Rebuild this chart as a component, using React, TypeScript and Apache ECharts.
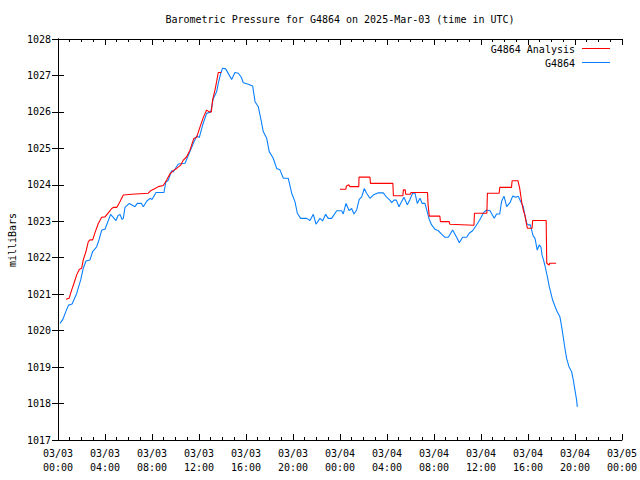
import React, { useEffect, useRef } from "react";
import * as echarts from "echarts";

// hours since 2025-03-03 00:00 UTC
const obsHours = [
  0.17, 0.4, 0.7, 0.9, 1.2, 1.59, 1.93, 2.15, 2.38, 2.72, 2.95, 3.29, 3.5, 3.72, 4.0, 4.48, 4.94, 5.1, 5.28, 5.45,
  5.56, 5.7, 6.07, 6.55, 6.75, 7.1, 7.26, 7.55, 7.83, 8.0, 8.34, 9.02, 9.17, 9.39, 9.67, 9.8, 10.24, 10.81, 11.23, 11.52,
  11.8, 12.03, 12.31, 12.65, 13.0, 13.22, 13.5, 13.64, 13.85, 14.01, 14.27, 14.5, 14.78, 15.06, 15.35, 15.6, 15.77, 16.2, 16.57, 16.77,
  17.05, 17.28, 17.47, 17.76, 17.98, 18.32, 18.61, 18.89, 19.18, 19.6, 19.89, 20.17, 20.37, 20.65, 21.16, 21.45, 21.73, 21.96, 22.3, 22.52,
  22.78, 23.0, 23.29, 23.72, 24.14, 24.28, 24.51, 24.79, 24.99, 25.19, 25.42, 25.64, 25.85, 26.07, 26.27, 26.55, 26.83, 27.26, 27.69, 27.97,
  28.25, 28.4, 28.6, 28.8, 29.02, 29.25, 29.45, 29.73, 29.96, 30.18, 30.38, 30.58, 30.81, 31.0, 31.23, 31.43, 31.6, 31.8, 32.09, 32.37,
  32.65, 32.94, 33.22, 33.59, 33.93, 34.16, 34.44, 34.78, 35.0, 35.29, 35.57, 35.86, 35.97, 36.2, 36.48, 36.77, 37.13, 37.33, 37.6, 37.75,
  37.96, 38.19, 38.47, 38.7, 38.98, 39.17, 39.38, 39.6, 39.74, 39.89, 40.03, 40.2, 40.44, 40.6, 40.79, 40.96, 41.1, 41.2, 41.3, 41.45,
  41.65, 41.82, 41.96, 42.1, 42.3, 42.49, 42.72, 42.87, 43.0, 43.15, 43.29, 43.49, 43.72, 43.86, 44.0, 44.14, 44.2,
];
const obsPressure = [
  1020.2, 1020.3, 1020.55, 1020.7, 1020.73, 1021.02, 1021.39, 1021.71, 1021.91, 1021.94, 1022.17, 1022.3, 1022.5, 1022.76, 1022.78, 1023.19, 1023.02, 1023.15, 1023.19, 1023.05,
  1023.08, 1023.38, 1023.49, 1023.4, 1023.49, 1023.49, 1023.4, 1023.55, 1023.63, 1023.6, 1023.79, 1023.79, 1024.07, 1024.13, 1024.39, 1024.35, 1024.57, 1024.59, 1024.91, 1025.14,
  1025.34, 1025.3, 1025.64, 1025.96, 1026.0, 1026.37, 1026.55, 1026.78, 1027.06, 1027.2, 1027.18, 1027.05, 1026.89, 1027.08, 1027.06, 1026.95, 1026.8, 1026.76, 1026.71, 1026.28,
  1026.14, 1025.78, 1025.46, 1025.28, 1024.91, 1024.73, 1024.45, 1024.41, 1024.18, 1024.18, 1023.77, 1023.54, 1023.22, 1023.08, 1023.08, 1023.02, 1023.19, 1022.92, 1023.08, 1023.01,
  1023.19, 1023.08, 1023.08, 1023.29, 1023.29, 1023.2, 1023.49, 1023.29, 1023.35, 1023.2, 1023.31, 1023.6, 1023.67, 1023.9, 1023.77, 1023.63, 1023.72, 1023.78, 1023.78, 1023.66,
  1023.58, 1023.51, 1023.58, 1023.58, 1023.4, 1023.54, 1023.66, 1023.45, 1023.6, 1023.77, 1023.78, 1023.49, 1023.63, 1023.49, 1023.49, 1023.26, 1023.05, 1022.9, 1022.78, 1022.74,
  1022.65, 1022.56, 1022.56, 1022.76, 1022.56, 1022.41, 1022.56, 1022.56, 1022.67, 1022.74, 1022.87, 1023.02, 1023.08, 1023.23, 1023.31, 1023.29, 1023.08, 1023.2, 1023.2, 1023.54,
  1023.69, 1023.4, 1023.51, 1023.69, 1023.66, 1023.69, 1023.54, 1023.4, 1023.17, 1022.94, 1022.9, 1022.9, 1022.6, 1022.53, 1022.21, 1022.35, 1022.3, 1022.07, 1021.97, 1021.78,
  1021.48, 1021.2, 1021.02, 1020.84, 1020.67, 1020.52, 1020.38, 1020.11, 1019.83, 1019.51, 1019.24, 1019.01, 1018.87, 1018.64, 1018.37, 1018.1, 1017.91,
];

// analysis series; null marks the gap in the analysis record
const anaHours = [
  0.68, 0.95, 1.16, 1.36, 1.59, 1.81, 2.01, 2.15, 2.38, 2.58, 2.72, 2.95, 3.15, 3.43, 3.72, 4.0, 4.28, 4.57, 4.71, 5.0,
  5.28, 5.56, 6.27, 7.69, 7.89, 8.26, 8.54, 8.96, 9.25, 9.53, 9.81, 10.1, 10.44, 10.67, 10.95, 11.23, 11.57, 11.8, 12.09, 12.37,
  12.65, 12.88, 13.05, 13.16, 13.36, 13.5, 13.64, 13.9,
  19.0,
  24.0, 24.5, 24.55, 24.75, 24.85, 25.6, 25.62, 26.55, 26.6, 28.5, 28.55, 29.35, 29.4, 29.55, 29.6, 30.0, 30.05, 31.45, 31.5, 31.6,
  32.5, 32.55, 33.3, 33.35, 35.4, 35.45, 36.5, 36.55, 37.55, 37.6, 38.6, 38.65, 39.15, 39.3, 39.46, 39.6, 39.74, 39.89, 39.95, 40.35,
  40.4, 41.55, 41.6, 41.8, 41.85, 42.4,
];
const anaPressure: (number | null)[] = [
  1020.86, 1020.89, 1021.11, 1021.3, 1021.53, 1021.68, 1021.71, 1021.94, 1022.17, 1022.44, 1022.49, 1022.49, 1022.69, 1022.94, 1023.11, 1023.12, 1023.23, 1023.35, 1023.38, 1023.38,
  1023.54, 1023.72, 1023.74, 1023.77, 1023.84, 1023.9, 1023.95, 1023.98, 1024.13, 1024.3, 1024.39, 1024.45, 1024.54, 1024.68, 1024.77, 1024.95, 1025.28, 1025.3, 1025.59, 1025.85,
  1026.05, 1026.0, 1026.0, 1026.33, 1026.6, 1026.83, 1027.08, 1027.08,
  null,
  1023.88, 1023.88, 1023.97, 1024.0, 1023.95, 1023.95, 1024.21, 1024.21, 1024.04, 1024.04, 1023.7, 1023.7, 1023.86, 1023.86, 1023.74, 1023.74, 1023.79, 1023.79, 1023.45, 1023.14,
  1023.14, 1022.99, 1022.99, 1022.92, 1022.89, 1023.22, 1023.22, 1023.77, 1023.77, 1023.93, 1023.93, 1024.11, 1024.11, 1023.9, 1023.54, 1023.31, 1023.17, 1022.9, 1022.81, 1022.81,
  1023.02, 1023.02, 1021.85, 1021.8, 1021.85, 1021.85,
];

const xTickHours = [0, 4, 8, 12, 16, 20, 24, 28, 32, 36, 40, 44, 48];
const dayLabels = ["03/03", "03/04", "03/05"];
const seriesNames = ["G4864 Analysis", "G4864"];
const seriesColors = ["#ff0000", "#0a80ff"];
const titleText = "Barometric Pressure for G4864 on 2025-Mar-03 (time in UTC)";
const yAxisTitle = "milliBars";

const FONT = "'DejaVu Sans Mono', 'Liberation Mono', monospace";

function fmtHour(h: number): string {
  const day = dayLabels[Math.floor(h / 24)] ?? dayLabels[dayLabels.length - 1];
  const hh = Math.round(h % 24);
  return `${day}\n${hh < 10 ? "0" + hh : hh}:00`;
}

export default function App() {
  const ref = useRef<HTMLDivElement>(null);
  useEffect(() => {
    if (!ref.current) return;
    const chart = echarts.init(ref.current, undefined, { renderer: "svg" });
    const obsData = obsHours.map((h, i) => [h, obsPressure[i]]);
    const anaData = anaHours.map((h, i) => [h, anaPressure[i] === null ? "-" : anaPressure[i]]);
    const axisLine = { show: true, lineStyle: { color: "#000", width: 1 } };
    const xCommon = {
      type: "value" as const,
      min: xTickHours[0],
      max: xTickHours[xTickHours.length - 1],
      interval: 4,
      splitLine: { show: false },
      axisLine,
      axisTick: { show: true, inside: true, length: 6, lineStyle: { color: "#000" } },
      minorTick: { show: true, splitNumber: 4, length: 3, lineStyle: { color: "#000" } },
    };
    const yCommon = {
      type: "value" as const,
      min: 1017,
      max: 1028,
      interval: 1,
      splitLine: { show: false },
      axisLine,
      axisTick: { show: true, inside: true, length: 6, lineStyle: { color: "#000" } },
    };
    chart.setOption({
      animation: false,
      backgroundColor: "#ffffff",
      textStyle: { fontFamily: FONT },
      grid: { left: 58, right: 18, top: 39, bottom: 40 },
      xAxis: [
        {
          ...xCommon,
          position: "bottom",
          axisLabel: {
            show: true,
            color: "#000",
            fontFamily: FONT,
            fontSize: 10,
            lineHeight: 14,
            margin: 6,
            formatter: (v: number) => fmtHour(v),
          },
        },
        { ...xCommon, position: "top", axisLabel: { show: false } },
      ],
      yAxis: [
        {
          ...yCommon,
          position: "left",
          axisLabel: {
            show: true,
            color: "#000",
            fontFamily: FONT,
            fontSize: 10,
            margin: 7,
            formatter: (v: number) => String(v),
          },
        },
        { ...yCommon, position: "right", axisLabel: { show: false } },
      ],
      series: [
        {
          name: seriesNames[0],
          type: "line",
          data: anaData,
          showSymbol: false,
          connectNulls: false,
          lineStyle: { color: seriesColors[0], width: 1.1 },
          itemStyle: { color: seriesColors[0] },
          z: 3,
        },
        {
          name: seriesNames[1],
          type: "line",
          data: obsData,
          showSymbol: false,
          lineStyle: { color: seriesColors[1], width: 1.1 },
          itemStyle: { color: seriesColors[1] },
          z: 2,
        },
      ],
      graphic: [
        {
          type: "text",
          x: 340,
          y: 19,
          style: { text: titleText, fill: "#000", font: `10px ${FONT}`, align: "center", verticalAlign: "middle" },
        },
        {
          type: "text",
          x: 12,
          y: 240,
          rotation: Math.PI / 2,
          style: { text: yAxisTitle, fill: "#000", font: `10px ${FONT}`, align: "center", verticalAlign: "middle" },
        },
        {
          type: "text",
          x: 575,
          y: 49,
          style: { text: seriesNames[0], fill: "#000", font: `10px ${FONT}`, align: "right", verticalAlign: "middle" },
        },
        {
          type: "line",
          shape: { x1: 582, y1: 48.5, x2: 610, y2: 48.5 },
          style: { stroke: seriesColors[0], lineWidth: 1 },
        },
        {
          type: "text",
          x: 575,
          y: 63,
          style: { text: seriesNames[1], fill: "#000", font: `10px ${FONT}`, align: "right", verticalAlign: "middle" },
        },
        {
          type: "line",
          shape: { x1: 582, y1: 62.5, x2: 610, y2: 62.5 },
          style: { stroke: seriesColors[1], lineWidth: 1 },
        },
      ],
    });
    return () => chart.dispose();
  }, []);
  return (
    <div
      ref={ref}
      style={{ position: "fixed", left: 0, top: 0, width: 640, height: 480, background: "#fff" }}
    />
  );
}
